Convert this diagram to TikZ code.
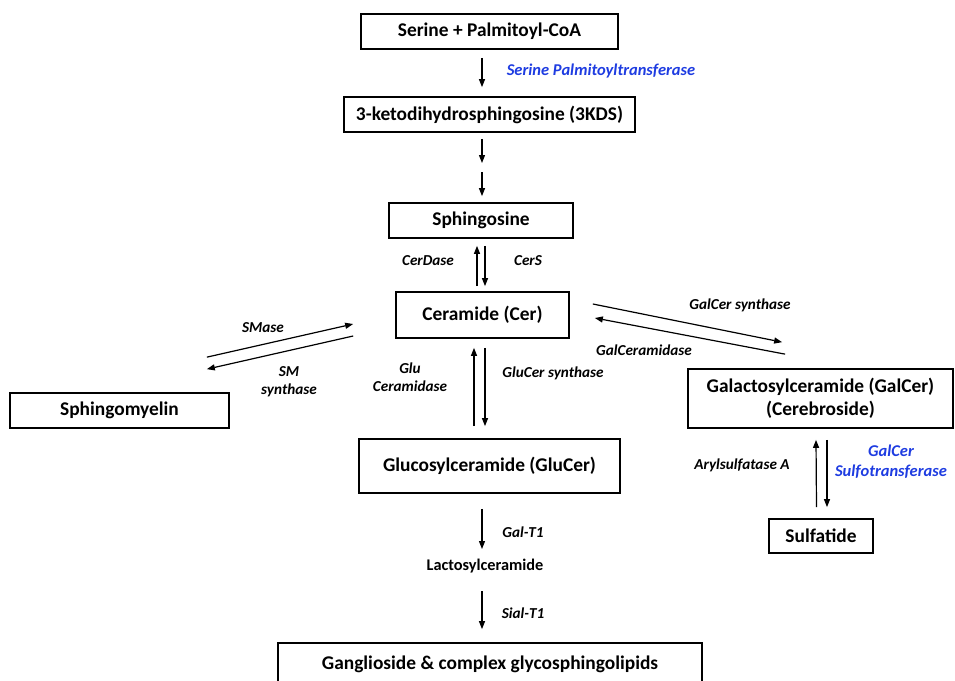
\documentclass[tikz,border=0pt]{standalone}
\usepackage{fontspec}
\setmainfont{Carlito}
\usepackage{tikz}
\usetikzlibrary{arrows.meta}
\definecolor{enzblue}{RGB}{30,60,225}

\begin{document}
\begin{tikzpicture}[x=1pt,y=-1pt,
  box/.style={draw,line width=1.7pt,inner sep=0pt,font=\fontsize{19.4}{23}\selectfont\bfseries,align=center},
  enz/.style={inner sep=0pt,font=\fontsize{15.2}{18}\selectfont\bfseries\itshape,align=center},
  bluenz/.style={enz,text=enzblue,font=\fontsize{16.5}{20}\selectfont\bfseries\itshape},
  arr/.style={-{Triangle[length=8pt,width=6pt]},line width=1.2pt}]
%\draw[help lines, color=gray!30] (0,0) grid[step=50] (955,680);
\useasboundingbox (0,0) rectangle (955,680);
% compounds
\node[box,minimum width=257,minimum height=35] (spc) at (489.5,31.5) {Serine + Palmitoyl-CoA};
\node[box,minimum width=291,minimum height=35] (kds) at (489.5,114.5) {3-ketodihydrosphingosine (3KDS)};
\node[box,minimum width=184,minimum height=35] (sph) at (481,220.5) {Sphingosine};
\node[box,minimum width=173,minimum height=46] (cer) at (482.5,315) {Ceramide (Cer)};
\node[box,minimum width=219,minimum height=35] (smy) at (119.5,410.5) {Sphingomyelin};
\node[box,minimum width=261,minimum height=54] (glucer) at (489.5,466) {Glucosylceramide (GluCer)};
\node[box,minimum width=265,minimum height=59] (galcer) at (820.5,398.5) {Galactosylceramide (GalCer)\\(Cerebroside)};
\node[box,minimum width=104,minimum height=34] (sulf) at (821,536) {Sulfatide};
\node[font=\fontsize{16.3}{20}\selectfont\bfseries] (lac) at (485,566) {Lactosylceramide};
\node[box,minimum width=424,minimum height=42] (gang) at (490,664) {Ganglioside \& complex glycosphingolipids};
\coordinate (kdsgap) at (482,167.5);
% reactions
\draw[arr] ([xshift=-7.5pt,yshift=-8pt]spc.south) -- ([xshift=-7.5pt,yshift=9pt]kds.north);
\draw[arr] ([xshift=-7.5pt,yshift=-6pt]kds.south) -- ([yshift=4.5pt]kdsgap);
\draw[arr] ([yshift=-4.5pt]kdsgap) -- ([xshift=1pt,yshift=6pt]sph.north);
\draw[arr] ([xshift=-5.5pt,yshift=5pt]cer.north) -- ([xshift=-4pt,yshift=-7pt]sph.south);
\draw[arr] ([xshift=4pt,yshift=-7pt]sph.south) -- ([xshift=2.5pt,yshift=5pt]cer.north);
\draw[arr] ([xshift=-23pt,yshift=35pt]smy.north east) -- ([xshift=-42pt,yshift=-9pt]cer.west);
\draw[arr] ([xshift=-42pt,yshift=-21pt]cer.west) -- ([xshift=-23pt,yshift=23pt]smy.north east);
\draw[arr] ([xshift=23pt,yshift=11pt]cer.east) -- ([xshift=95pt,yshift=26pt]galcer.north west);
\draw[arr] ([xshift=98pt,yshift=14pt]galcer.north west) -- ([xshift=25pt,yshift=-3pt]cer.east);
\draw[arr] ([xshift=-15.5pt,yshift=12pt]glucer.north) -- ([xshift=-8.5pt,yshift=-9pt]cer.south);
\draw[arr] ([xshift=2.5pt,yshift=-9pt]cer.south) -- ([xshift=-4.5pt,yshift=12pt]glucer.north);
\draw[arr] ([xshift=-4.5pt,yshift=11pt]sulf.north) -- ([xshift=-4.5pt,yshift=-11pt]galcer.south);
\draw[arr] ([xshift=6.5pt,yshift=-11pt]galcer.south) -- ([xshift=6pt,yshift=11pt]sulf.north);
\draw[arr] ([xshift=-7.5pt,yshift=-15pt]glucer.south) -- ([xshift=-3pt,yshift=17pt]lac.center);
\draw[arr] ([xshift=-3pt,yshift=-25pt]lac.center) -- ([xshift=-8pt,yshift=13pt]gang.north);
% enzymes
\node[bluenz] (spt) at (601,71) {Serine Palmitoyltransferase};
\node[enz] (cerdase) at (428,261) {CerDase};
\node[enz] (cers) at (528,261) {CerS};
\node[enz] (smase) at (263,328) {SMase};
\node[enz] (smsyn) at (289,382) {SM\\synthase};
\node[enz] (galsyn) at (740,305) {GalCer synthase};
\node[enz] (galcdase) at (644,350) {GalCeramidase};
\node[enz] (glucdase) at (410,377) {Glu\\Ceramidase};
\node[enz] (glusyn) at (553,373) {GluCer synthase};
\node[enz] (aryl) at (742,465) {Arylsulfatase A};
\node[bluenz] (galsulf) at (891,462) {GalCer\\Sulfotransferase};
\node[enz] (galt) at (523,532) {Gal-T1};
\node[enz] (sialt) at (523,613) {Sial-T1};
\end{tikzpicture}
\end{document}
